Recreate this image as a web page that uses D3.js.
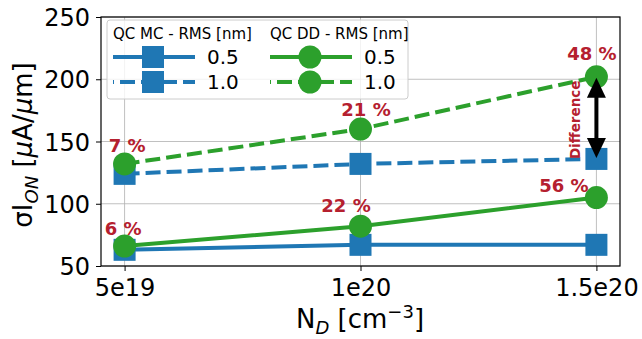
<!DOCTYPE html>
<html>
<head>
<meta charset="utf-8">
<script src="https://cdn.jsdelivr.net/npm/d3@7"></script>
<style>
  body { margin: 0; background: #fff; }
  text { font-family: "DejaVu Sans", sans-serif; }
</style>
</head>
<body>
<div id="chart"></div>
<script>
// data
const doping = [5e19, 1e20, 1.5e20];
const xTickLabels = ["5e19", "1e20", "1.5e20"];
const yTicks = [50, 100, 150, 200, 250];
const mc05 = [63, 67, 67];
const mc10 = [124, 132, 136];
const dd05 = [66, 82, 105];
const dd10 = [132, 160, 202];
const pct05 = ["6 %", "22 %", "56 %"];
const pct10 = ["7 %", "21 %", "48 %"];

const W = 642, H = 339;
const margin = { top: 17, right: 22, bottom: 73, left: 101 };
const width = W - margin.left - margin.right;
const height = H - margin.top - margin.bottom;

const blue = "#1f77b4", green = "#2ca02c", red = "#b5202f";

const x = d3.scaleLinear().domain([4.5e19, 1.55e20]).range([0, width]);
const y = d3.scaleLinear().domain([50, 250]).range([height, 0]);

const svg = d3.select("#chart").append("svg")
    .attr("width", W)
    .attr("height", H);

const g = svg.append("g")
    .attr("transform", `translate(${margin.left},${margin.top})`);

// grid
g.append("g").selectAll("line").data(yTicks).join("line")
    .attr("x1", 0).attr("x2", width)
    .attr("y1", d => y(d)).attr("y2", d => y(d))
    .attr("stroke", "#b0b0b0").attr("stroke-width", 0.8);
g.append("g").selectAll("line").data(doping).join("line")
    .attr("y1", 0).attr("y2", height)
    .attr("x1", d => x(d)).attr("x2", d => x(d))
    .attr("stroke", "#b0b0b0").attr("stroke-width", 0.8);

// axes
const xAxis = g.append("g")
    .attr("transform", `translate(0,${height})`)
    .call(d3.axisBottom(x).tickValues(doping).tickFormat((d, i) => xTickLabels[i]).tickSize(5).tickSizeOuter(0));
const yAxis = g.append("g")
    .call(d3.axisLeft(y).tickValues(yTicks).tickSize(5).tickSizeOuter(0));
[xAxis, yAxis].forEach(a => {
  a.select(".domain").remove();
  a.selectAll(".tick line").attr("stroke", "#000").attr("stroke-width", 1);
  a.selectAll(".tick text").attr("fill", "#000").style("font-size", "24px")
    .style("font-family", "DejaVu Sans, sans-serif");
});
xAxis.selectAll(".tick text").attr("dy", 0).attr("y", 30);
yAxis.selectAll(".tick text").attr("x", -11).attr("dy", "0.36em");

// frame
g.append("rect")
    .attr("width", width).attr("height", height)
    .attr("fill", "none").attr("stroke", "#000").attr("stroke-width", 1.2);

const line = d3.line().x((d, i) => x(doping[i])).y(d => y(d));

const series = [
  { vals: mc05, color: blue, dash: null, marker: "square" },
  { vals: mc10, color: blue, dash: "15,6", marker: "square" },
  { vals: dd05, color: green, dash: null, marker: "circle" },
  { vals: dd10, color: green, dash: "15,6", marker: "circle" }
];

function drawMarker(sel, type, color, cx, cy) {
  if (type === "square") {
    sel.append("rect")
      .attr("x", cx - 11).attr("y", cy - 11)
      .attr("width", 22).attr("height", 22)
      .attr("fill", color);
  } else {
    sel.append("circle")
      .attr("cx", cx).attr("cy", cy).attr("r", 11.5)
      .attr("fill", color);
  }
}

series.forEach(s => {
  g.append("path")
    .datum(s.vals)
    .attr("fill", "none")
    .attr("stroke", s.color)
    .attr("stroke-width", 4)
    .attr("stroke-dasharray", s.dash)
    .attr("d", line);
  s.vals.forEach((v, i) => drawMarker(g, s.marker, s.color, x(doping[i]), y(v)));
});

// percentage labels
const pctStyle = sel => sel.attr("fill", red).style("font-size", "18px")
    .style("font-weight", "bold").attr("text-anchor", "middle");
const off05 = [[-1.5, -11], [-14.5, -14], [-32.5, -6]];
const off10 = [[2.5, -12], [5.5, -13], [-4.5, -17]];
pct05.forEach((t, i) => {
  g.append("text").call(pctStyle)
    .attr("x", x(doping[i]) + off05[i][0])
    .attr("y", y(dd05[i]) + off05[i][1])
    .text(t);
});
pct10.forEach((t, i) => {
  g.append("text").call(pctStyle)
    .attr("x", x(doping[i]) + off10[i][0])
    .attr("y", y(dd10[i]) + off10[i][1])
    .text(t);
});

// difference arrow
const ax = x(doping[2]);
const yTop = y(dd10[2]) + 1, yBot = y(mc10[2]) - 1;
const head = 20, hw = 9.5;
g.append("line")
    .attr("x1", ax).attr("x2", ax)
    .attr("y1", yTop + head - 2).attr("y2", yBot - head + 2)
    .attr("stroke", "#000").attr("stroke-width", 4);
g.append("path")
    .attr("d", `M${ax},${yTop} L${ax - hw},${yTop + head} L${ax + hw},${yTop + head} Z`)
    .attr("fill", "#000");
g.append("path")
    .attr("d", `M${ax},${yBot} L${ax - hw},${yBot - head} L${ax + hw},${yBot - head} Z`)
    .attr("fill", "#000");
g.append("text")
    .attr("transform", `translate(${ax - 16},${(yTop + yBot) / 2 + 2}) rotate(-90)`)
    .attr("text-anchor", "middle")
    .attr("fill", red)
    .style("font-size", "13.5px")
    .style("font-weight", "bold")
    .text("Difference");

// legend
const leg = g.append("g").attr("transform", "translate(6,3)");
leg.append("rect")
    .attr("width", 301).attr("height", 79).attr("rx", 3)
    .attr("fill", "#fff").attr("fill-opacity", 0.8)
    .attr("stroke", "#ccc").attr("stroke-width", 1);
const legCols = [
  { title: "QC MC - RMS [nm]", x0: 0, color: blue, marker: "square" },
  { title: "QC DD - RMS [nm]", x0: 157, color: green, marker: "circle" }
];
const legRows = [{ label: "0.5", dash: null }, { label: "1.0", dash: "15,6" }];
legCols.forEach(c => {
  leg.append("text")
    .attr("x", c.x0 + 6).attr("y", 19)
    .style("font-size", "15px").attr("fill", "#000")
    .text(c.title);
  legRows.forEach((r, j) => {
    const ly = 37 + j * 25;
    leg.append("line")
      .attr("x1", c.x0 + 6).attr("x2", c.x0 + 88)
      .attr("y1", ly).attr("y2", ly)
      .attr("stroke", c.color).attr("stroke-width", 4)
      .attr("stroke-dasharray", r.dash)
      .attr("stroke-dashoffset", r.dash ? -7 : null);
    drawMarker(leg, c.marker, c.color, c.x0 + 46, ly);
    leg.append("text")
      .attr("x", c.x0 + 100).attr("y", ly + 7)
      .style("font-size", "20px").attr("fill", "#000")
      .text(r.label);
  });
});

// axis titles
const xt = svg.append("text")
    .attr("x", 360)
    .attr("y", 328)
    .attr("text-anchor", "middle")
    .style("font-size", "26px");
xt.append("tspan").text("N");
xt.append("tspan").attr("dy", 6).style("font-size", "18px").style("font-style", "italic").text("D");
xt.append("tspan").attr("dy", -6).text(" [cm");
xt.append("tspan").attr("dy", -10).style("font-size", "18px").text("\u22123");
xt.append("tspan").attr("dy", 10).text("]");

const yt = svg.append("text")
    .attr("transform", `translate(32,145) rotate(-90)`)
    .attr("text-anchor", "middle")
    .style("font-size", "26px");
yt.append("tspan").text("\u03c3I");
yt.append("tspan").attr("dy", 6).style("font-size", "18px").style("font-style", "italic").text("ON");
yt.append("tspan").attr("dy", -6).text(" [");
yt.append("tspan").style("font-style", "italic").text("\u03bc");
yt.append("tspan").text("A/");
yt.append("tspan").style("font-style", "italic").text("\u03bc");
yt.append("tspan").text("m]");
</script>
</body>
</html>
